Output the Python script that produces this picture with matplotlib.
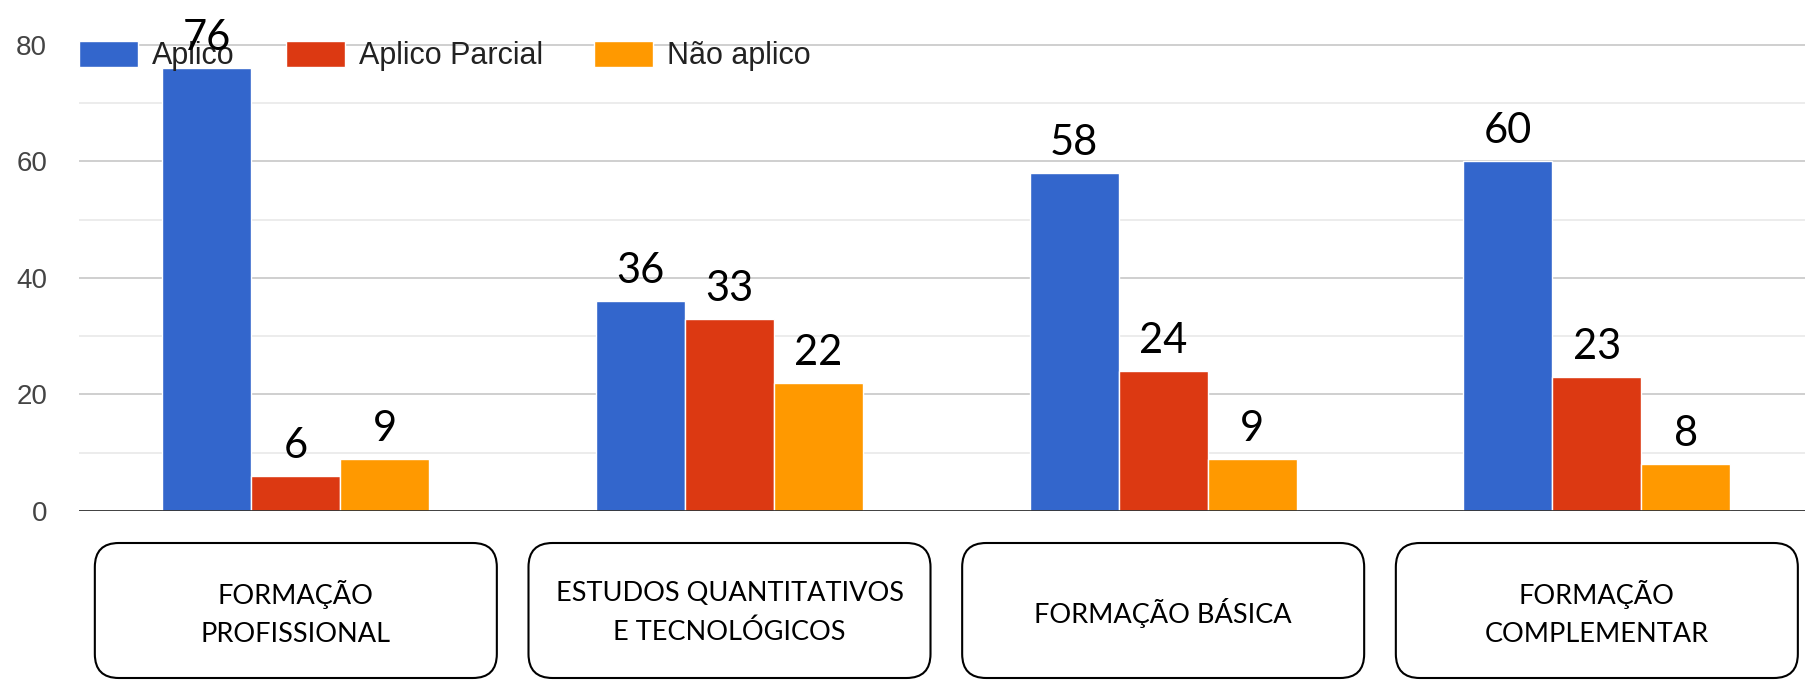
import matplotlib
matplotlib.use('Agg')
import matplotlib.pyplot as plt
from matplotlib.patches import FancyBboxPatch
import numpy as np

# ---- data ----
categories = ['FORMAÇÃO\nPROFISSIONAL', 'ESTUDOS QUANTITATIVOS\nE TECNOLÓGICOS',
              'FORMAÇÃO BÁSICA', 'FORMAÇÃO\nCOMPLEMENTAR']
series_names = ['Aplico', 'Aplico Parcial', 'Não aplico']
aplico = [76, 36, 58, 60]
aplico_parcial = [6, 33, 24, 23]
nao_aplico = [9, 22, 9, 8]
y_ticks = [0, 20, 40, 60, 80]
y_minor = [10, 30, 50, 70]

colors = ['#3366CC', '#DC3912', '#FF9900']

plt.rcParams['font.family'] = ['Liberation Sans', 'DejaVu Sans']

W, H = 1805, 680
fig = plt.figure(figsize=(W / 100, H / 100), dpi=100)
ax = fig.add_axes([79 / W, 1 - 511 / H, 1 - 79 / W, 511 / H])

x = np.arange(len(categories))
bw = 0.205
for i, (vals, col, name) in enumerate(zip([aplico, aplico_parcial, nao_aplico], colors, series_names)):
    bars = ax.bar(x + (i - 1) * bw, vals, width=bw, color=col, edgecolor='white',
                  linewidth=1, label=name, zorder=2)
    for b, v in zip(bars, vals):
        ax.annotate(str(v), xy=(b.get_x() + b.get_width() / 2, v), xytext=(0, 13),
                    textcoords='offset points', ha='center', va='baseline',
                    fontsize=30, family=['Lato', 'DejaVu Sans'], color='black',
                    zorder=6, annotation_clip=False)

ax.set_xlim(-0.5, 3.48)
ax.set_ylim(0, 87.7)
ax.set_yticks(y_ticks)
ax.set_yticks(y_minor, minor=True)
ax.set_xticks([])
ax.grid(axis='y', which='major', color='#cccccc', linewidth=1.3, zorder=0)
ax.grid(axis='y', which='minor', color='#ebebeb', linewidth=1.3, zorder=0)
ax.set_axisbelow(True)
for s in ax.spines.values():
    s.set_visible(False)
ax.axhline(0, color='#333333', linewidth=2, zorder=3)
ax.tick_params(axis='y', which='both', length=0, pad=23, labelsize=20, labelcolor='#444444')

leg = ax.legend(loc='center left', bbox_to_anchor=(0, 1 - 56 / 511), ncol=3, frameon=False,
                fontsize=22, handlelength=1.93, handleheight=0.98, handletextpad=0.46,
                columnspacing=1.67, borderpad=0, borderaxespad=0)
leg.set_zorder(4)
for t in leg.get_texts():
    t.set_color('#222222')

# ---- category boxes below the axis ----
box_w = 0.927
inv = fig.transFigure.inverted()
y_bot = 1 - 678 / H
y_top = 1 - 543 / H
for xi, lab in zip(x, categories):
    left = inv.transform(ax.transData.transform((xi - box_w / 2, 0)))[0]
    right = inv.transform(ax.transData.transform((xi + box_w / 2, 0)))[0]
    patch = FancyBboxPatch((left, y_bot), right - left, y_top - y_bot,
                           boxstyle='round,pad=0,rounding_size=0.0133',
                           mutation_aspect=W / H, transform=fig.transFigure,
                           facecolor='white', edgecolor='black', linewidth=1.5)
    fig.add_artist(patch)
    fig.text((left + right) / 2, (y_bot + y_top) / 2 - 0.004, lab, ha='center', va='center',
             fontsize=19.5, family=['Lato', 'DejaVu Sans'], linespacing=1.65,
             multialignment='center', color='black')

fig.savefig('out.png', dpi=100)
